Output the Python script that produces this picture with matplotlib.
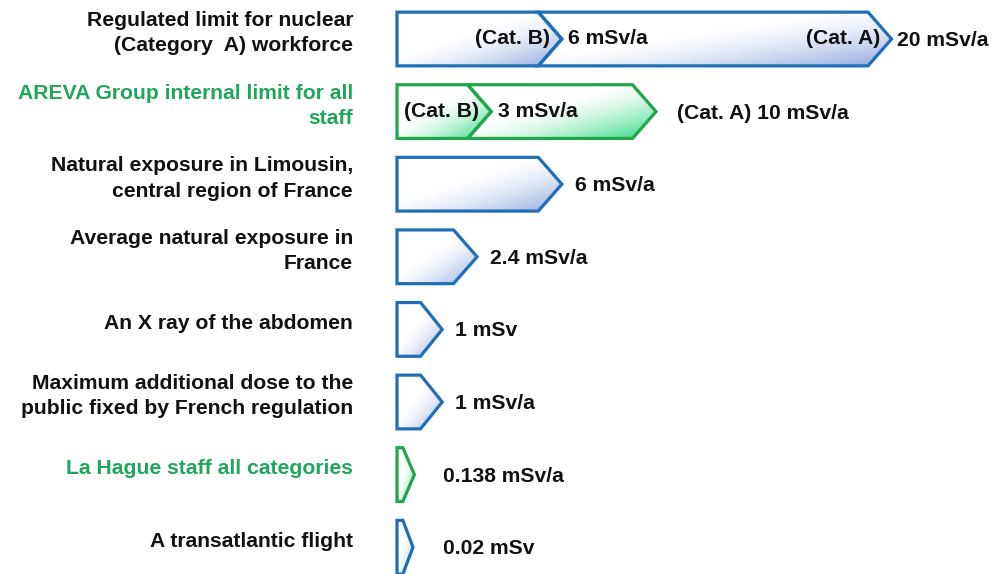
import numpy as np
import matplotlib
matplotlib.use("Agg")
import matplotlib.pyplot as plt
from matplotlib.patches import Polygon
from matplotlib.colors import to_rgb

plt.rcParams['font.family'] = ['Liberation Sans', 'DejaVu Sans']

categories = [
    "Regulated limit for nuclear\n(Category  A) workforce",
    "AREVA Group internal limit for all\nstaff",
    "Natural exposure in Limousin,\ncentral region of France",
    "Average natural exposure in\nFrance",
    "An X ray of the abdomen",
    "Maximum additional dose to the\npublic fixed by French regulation",
    "La Hague staff all categories",
    "A transatlantic flight",
]
doses = [20, 10, 6, 2.4, 1, 1, 0.138, 0.02]
dose_labels = ["20 mSv/a", "(Cat. A) 10 mSv/a", "6 mSv/a", "2.4 mSv/a",
               "1 mSv", "1 mSv/a", "0.138 mSv/a", "0.02 mSv"]
cat_b = [6, 3, None, None, None, None, None, None]
cat_b_labels = ["6 mSv/a", "3 mSv/a", None, None, None, None, None, None]
cat_a_inside = [True, False, False, False, False, False, False, False]
areva = [False, True, False, False, False, False, True, False]

BLUE_LINE = '#1f6fb6'
BLUE_FILL = '#8ea8df'
GREEN_LINE = '#20a64c'
GREEN_FILL = '#2fd882'
GREEN_TEXT = '#1fa65a'

PX = 23.55          # pixels per mSv
X0 = 397            # pixel position of dose 0
ROW0, ROWSTEP = 39, 72.6
HALF = 0.37         # half bar height in row units
MIN_BODY = 0.25     # tiny doses still get a visible stub


def tip_depth(v):
    return min(1.0, 0.42 + 0.5 * v)


def gradient_shape(ax, pts, end_color):
    xs = [p[0] for p in pts]
    ys = [p[1] for p in pts]
    x0, x1 = min(xs), max(xs)
    ytop, ybot = min(ys), max(ys)
    u = np.linspace(0, 1, 300)[None, :]
    w = np.linspace(0, 1, 80)[:, None]
    t = (u + w) / 2
    f = np.clip((t - 0.4) / 0.6, 0, 1) ** 1.5
    c = np.array(to_rgb(end_color))
    img = (1 - f[..., None]) * 1.0 + f[..., None] * c
    im = ax.imshow(img, extent=(x0, x1, ybot, ytop), origin='upper',
                   aspect='auto', interpolation='bilinear', zorder=1)
    return im


def chevron(ax, yc, start, value, notch, line, fill):
    end = max(value, start + MIN_BODY)
    d = tip_depth(value)
    pts = [(start, yc - HALF), (end, yc - HALF), (end + d, yc),
           (end, yc + HALF), (start, yc + HALF), (start + notch, yc)]
    im = gradient_shape(ax, pts, fill)
    poly = Polygon(pts, closed=True, facecolor='none', edgecolor=line,
                   lw=2.3, joinstyle='miter', zorder=3)
    ax.add_patch(poly)
    im.set_clip_path(poly)
    return end + d


fig = plt.figure(figsize=(9.93, 5.74), dpi=100)
ax = fig.add_axes([0, 0, 1, 1])
ax.set_xlim(-X0 / PX, (993 - X0) / PX)
ax.set_ylim((574 - ROW0) / ROWSTEP, -ROW0 / ROWSTEP)
ax.axis('off')

fs = 15.2
gap = 13 / PX
min_text_x = (443 - X0) / PX
label_x = (353 - X0) / PX

for i, name in enumerate(categories):
    line = GREEN_LINE if areva[i] else BLUE_LINE
    fill = GREEN_FILL if areva[i] else BLUE_FILL
    ax.text(label_x, i - 0.08, name, ha='right', va='center', fontsize=fs,
            fontweight='bold', color=GREEN_TEXT if areva[i] else '#111111',
            linespacing=1.42)

    start = 0
    notch = 0
    if cat_b[i] is not None:
        b = cat_b[i]
        tip_b = chevron(ax, i, 0, b, 0, line, fill)
        ax.text(b + tip_depth(b) * 0.5, i, "(Cat. B)", ha='right', va='center',
                fontsize=fs, fontweight='bold', color='#111111', zorder=4)
        ax.text(tip_b + gap * 0.5, i, cat_b_labels[i], ha='left', va='center',
                fontsize=fs, fontweight='bold', color='#111111', zorder=4)
        start = b
        notch = tip_depth(b)

    tip = chevron(ax, i, start, doses[i], notch, line, fill)
    if cat_a_inside[i]:
        ax.text(doses[i] + tip_depth(doses[i]) * 0.5, i, "(Cat. A)", ha='right',
                va='center', fontsize=fs, fontweight='bold', color='#111111', zorder=4)
        tx = tip + gap * 0.4
    else:
        tx = max(tip + gap * (1.6 if cat_b[i] is not None else 1.0), min_text_x)
    ax.text(tx, i + 0.02, dose_labels[i], ha='left', va='center', fontsize=fs,
            fontweight='bold', color='#111111', zorder=4)

fig.savefig('out.png', dpi=100)
